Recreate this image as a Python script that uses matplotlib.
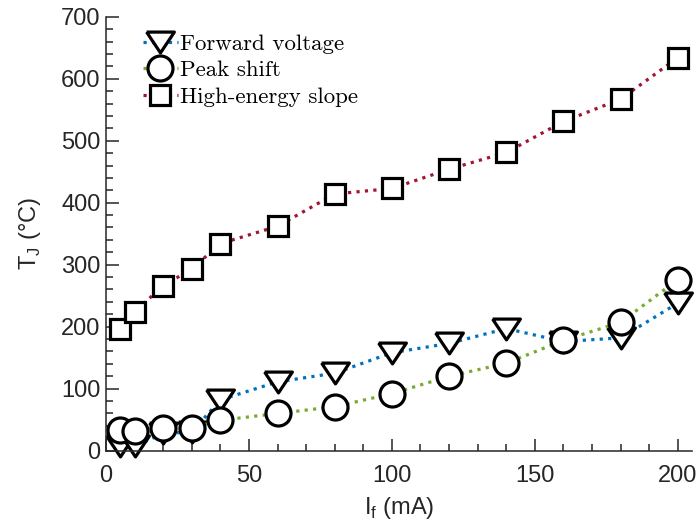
import matplotlib
matplotlib.use("Agg")
import matplotlib.pyplot as plt
from matplotlib.ticker import MultipleLocator
import numpy as np

# data
current = [5, 10, 20, 30, 40, 60, 80, 100, 120, 140, 160, 180, 200]
forward_voltage = [7, 7, 28, 30, 82, 111, 125, 158, 173, 197, 176, 182, 238]
peak_shift = [34, 31, 36, 37, 49, 60, 71, 92, 120, 141, 178, 207, 276]
high_energy = [197, 224, 266, 293, 334, 362, 414, 423, 454, 481, 531, 567, 634]

blue = "#0072BD"
green = "#77AC30"
red = "#A2142F"
axcol = "#262626"

plt.rcParams["font.family"] = ["Liberation Sans", "DejaVu Sans"]
plt.rcParams["mathtext.fontset"] = "custom"
plt.rcParams["mathtext.rm"] = "Liberation Sans"

# wide, flat down-pointing triangle like the MATLAB marker
tri = [(-1, 0.75), (1, 0.75), (0, -0.75), (-1, 0.75)]

fig = plt.figure(figsize=(6.97, 5.27), dpi=100)
ax = fig.add_axes([0.152, 0.1448, 0.841, 0.8235])

common = dict(linestyle=":", linewidth=2.3, markerfacecolor="white",
              markeredgecolor="black", markeredgewidth=2.3, clip_on=False)
ax.plot(current, forward_voltage, color=blue, marker=tri, markersize=20,
        label="Forward voltage", **common)
ax.plot(current, peak_shift, color=green, marker="o", markersize=18,
        label="Peak shift", **common)
ax.plot(current, high_energy, color=red, marker="s", markersize=14,
        label="High-energy slope", **common)

ax.set_xlim(0, 205)
ax.set_ylim(0, 700)
ax.xaxis.set_major_locator(MultipleLocator(50))
ax.xaxis.set_minor_locator(MultipleLocator(10))
ax.yaxis.set_major_locator(MultipleLocator(100))
ax.yaxis.set_minor_locator(MultipleLocator(20))

for s in ["top", "right"]:
    ax.spines[s].set_visible(False)
for s in ["left", "bottom"]:
    ax.spines[s].set_color(axcol)
    ax.spines[s].set_linewidth(1.1)

ax.tick_params(which="both", direction="in", colors=axcol, labelsize=17)
ax.tick_params(which="major", length=9, width=1.1)
ax.tick_params(which="minor", length=5, width=1.1)
ax.tick_params(axis="x", which="major", pad=10)
ax.tick_params(axis="y", which="major", pad=4)

ax.set_xlabel(r"I$_\mathregular{f}$ (mA)", fontsize=17, color=axcol, labelpad=6)
ax.set_ylabel(r"T$_\mathregular{J}$ (°C)", fontsize=17, color=axcol, labelpad=13)

leg = ax.legend(loc="upper left", bbox_to_anchor=(0.04, 0.993), frameon=False,
                prop={"family": "cmr10", "size": 16.5}, handlelength=1.5,
                handletextpad=0.1, labelspacing=0.3, borderaxespad=0.2)

fig.savefig("out.png", dpi=100)
